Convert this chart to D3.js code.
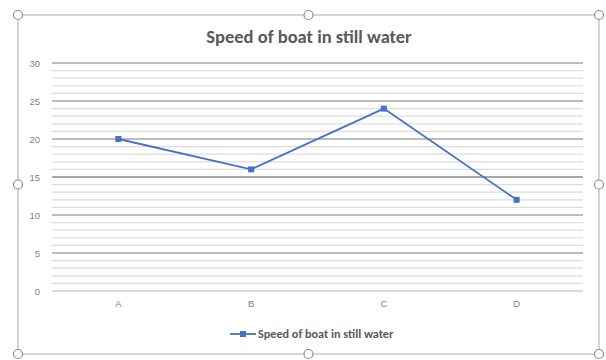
<!DOCTYPE html>
<html>
<head>
<meta charset="utf-8">
<script src="https://cdn.jsdelivr.net/npm/d3@7"></script>
<style>
  body { margin: 0; background: #fff; }
  svg { display: block; font-family: Calibri, Carlito, Lato, sans-serif; }
</style>
</head>
<body>
<svg width="606" height="360"></svg>
<script>
// chart data
const categories = ["A", "B", "C", "D"];
const speeds = [20, 16, 24, 12];
const yTicks = [0, 5, 10, 15, 20, 25, 30];
const seriesName = "Speed of boat in still water";

const svg = d3.select("svg");

const margin = { left: 52, right: 23, top: 63, bottom: 69 };
const width = 606, height = 360;

const x = d3.scaleBand()
  .domain(categories)
  .range([margin.left, width - margin.right]);

const y = d3.scaleLinear()
  .domain([0, 30])
  .range([height - margin.bottom, margin.top]);

// frame (selected chart look)
const frame = { x0: 18, y0: 15, x1: 599, y1: 354 };
svg.append("rect")
  .attr("x", frame.x0).attr("y", frame.y0)
  .attr("width", frame.x1 - frame.x0).attr("height", frame.y1 - frame.y0)
  .attr("fill", "#fff").attr("stroke", "#c8c8c8").attr("stroke-width", 1.5);

// minor grid
svg.append("g")
  .selectAll("line")
  .data(d3.range(0, 31).filter(d => d % 5 !== 0))
  .join("line")
  .attr("x1", margin.left).attr("x2", width - margin.right)
  .attr("y1", d => y(d)).attr("y2", d => y(d))
  .attr("stroke", "#dcdcdc").attr("stroke-width", 1.2);

// major grid
svg.append("g")
  .selectAll("line")
  .data(yTicks)
  .join("line")
  .attr("x1", margin.left).attr("x2", width - margin.right)
  .attr("y1", d => y(d)).attr("y2", d => y(d))
  .attr("stroke", d => d === 15 ? "#8a8a8a" : (d === 0 ? "#cfcfcf" : "#a6a6a6"))
  .attr("stroke-width", 1.6);

// y axis
const yAxis = svg.append("g")
  .attr("transform", `translate(${margin.left - 12},0)`)
  .call(d3.axisLeft(y).tickValues(yTicks).tickSize(0).tickPadding(0));
yAxis.select(".domain").remove();
yAxis.selectAll("text").attr("fill", "#7f7f7f").attr("font-size", 9.5);

// x axis
const xAxis = svg.append("g")
  .attr("transform", `translate(0,${height - margin.bottom + 9})`)
  .call(d3.axisBottom(x).tickSize(0).tickPadding(0));
xAxis.select(".domain").remove();
xAxis.selectAll("text").attr("fill", "#7f7f7f").attr("font-size", 9.5);

// title
svg.append("text")
  .attr("x", 309).attr("y", 43)
  .attr("text-anchor", "middle")
  .attr("font-size", 18.5).attr("font-weight", "bold")
  .attr("fill", "#595959")
  .text(seriesName);

// series line
const data = categories.map((c, i) => ({ c, v: speeds[i] }));
const line = d3.line()
  .x(d => x(d.c) + x.bandwidth() / 2)
  .y(d => y(d.v));

svg.append("path")
  .datum(data)
  .attr("d", line)
  .attr("fill", "none")
  .attr("stroke", "#4472c4")
  .attr("stroke-width", 1.8);

svg.append("g")
  .selectAll("rect")
  .data(data)
  .join("rect")
  .attr("x", d => x(d.c) + x.bandwidth() / 2 - 3)
  .attr("y", d => y(d.v) - 3)
  .attr("width", 6).attr("height", 6)
  .attr("fill", "#4472c4");

// legend
const lg = svg.append("g").attr("transform", "translate(230,334)");
lg.append("line").attr("x1", 0).attr("x2", 26).attr("y1", 0).attr("y2", 0)
  .attr("stroke", "#4472c4").attr("stroke-width", 1.8);
lg.append("rect").attr("x", 10).attr("y", -3).attr("width", 6).attr("height", 6)
  .attr("fill", "#4472c4");
lg.append("text").attr("x", 28).attr("y", 4)
  .attr("font-size", 12.2).attr("font-weight", "bold").attr("fill", "#595959")
  .text(seriesName);

// selection handles
const handles = [
  [frame.x0, frame.y0], [(frame.x0 + frame.x1) / 2, frame.y0], [frame.x1, frame.y0],
  [frame.x0, (frame.y0 + frame.y1) / 2], [frame.x1, (frame.y0 + frame.y1) / 2],
  [frame.x0, frame.y1], [(frame.x0 + frame.x1) / 2, frame.y1], [frame.x1, frame.y1]
];
svg.append("g")
  .selectAll("circle")
  .data(handles)
  .join("circle")
  .attr("cx", d => d[0]).attr("cy", d => d[1]).attr("r", 4.5)
  .attr("fill", "#fff").attr("stroke", "#8c8c8c").attr("stroke-width", 1.2);
</script>
</body>
</html>
